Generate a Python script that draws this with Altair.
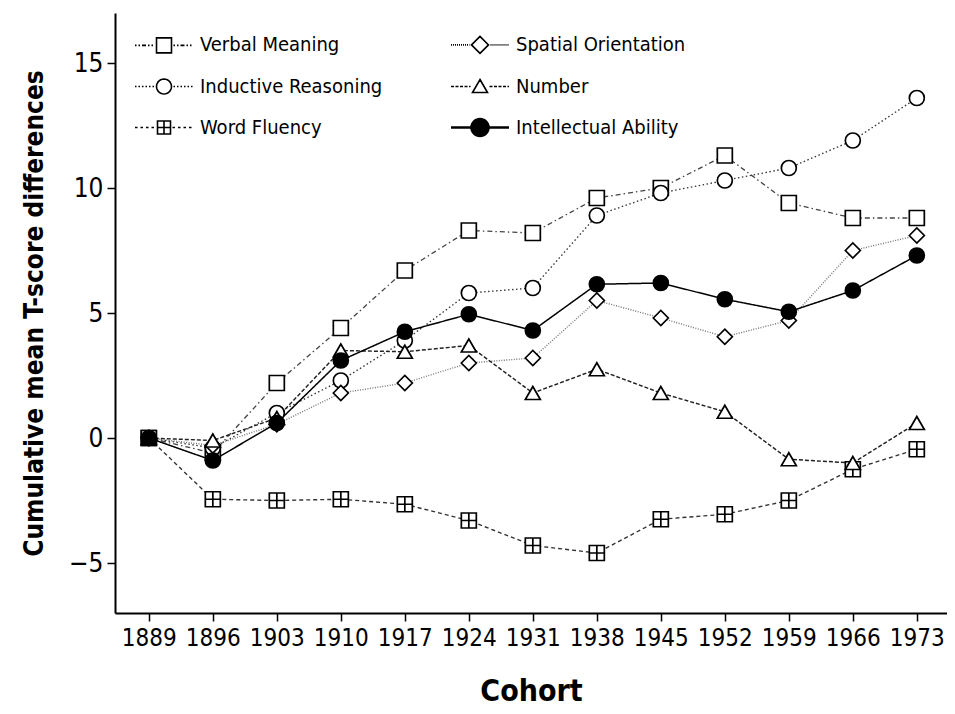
import math
import altair as alt
import pandas as pd

# ---------------- data ----------------
cohorts = [1889, 1896, 1903, 1910, 1917, 1924, 1931, 1938, 1945, 1952, 1959, 1966, 1973]
verbal_meaning = [0, -0.6, 2.2, 4.4, 6.7, 8.3, 8.2, 9.6, 10.0, 11.3, 9.4, 8.8, 8.8]
inductive_reasoning = [0, -0.4, 1.0, 2.3, 3.9, 5.8, 6.0, 8.9, 9.8, 10.3, 10.8, 11.9, 13.6]
word_fluency = [0, -2.45, -2.5, -2.45, -2.65, -3.3, -4.3, -4.6, -3.25, -3.05, -2.5, -1.25, -0.45]
spatial_orientation = [0, -0.3, 0.55, 1.8, 2.2, 3.0, 3.2, 5.5, 4.8, 4.05, 4.7, 7.5, 8.1]
number = [0, -0.1, 0.8, 3.5, 3.45, 3.7, 1.8, 2.75, 1.8, 1.05, -0.85, -1.0, 0.6]
intellectual_ability = [0, -0.9, 0.6, 3.1, 4.25, 4.95, 4.3, 6.15, 6.2, 5.55, 5.05, 5.9, 7.3]

series_names = ["Verbal Meaning", "Inductive Reasoning", "Word Fluency",
                "Spatial Orientation", "Number", "Intellectual Ability"]
series_values = [verbal_meaning, inductive_reasoning, word_fluency,
                 spatial_orientation, number, intellectual_ability]

rows = []
for name, vals in zip(series_names, series_values):
    for c, v in zip(cohorts, vals):
        rows.append({"series": name, "cohort": c, "value": v})
df = pd.DataFrame(rows)

# ---------------- styles ----------------
FONT = "DejaVu Sans Condensed, DejaVu Sans, sans-serif"

line_dash = [[5, 3, 1.5, 3], [1.5, 2.5], [4, 3], [1, 1.5], [4, 2], [1, 0]]
line_color = ["#444444", "#333333", "#333333", "#777777", "#222222", "#000000"]
line_width = [1.3, 1.5, 1.4, 1.2, 1.4, 2.5]

wf_shape = "M-1,-1H1V1H-1ZM0,-1V1M-1,0H1"
point_shapes = ["square", "circle", wf_shape, "diamond", "triangle-up", "circle"]
point_sizes = [225, 225, 180, 289, 240, 380]
point_fill = ["white", "white", "white", "white", "white", "black"]

# legend symbols: line stub + marker drawn as one stroked custom path
U = 14.5            # px per path unit; symbol spans [-2, 2] units
HALF = 2 * U        # half length of legend symbol in px


def f(v):
    return f"{v / U:.3f}"


def dash_segments(x0, x1, pattern, y=0.0):
    out = []
    x = x0
    i = 0
    while x < x1:
        seg = pattern[i % len(pattern)]
        if i % 2 == 0:
            out.append(f"M{f(x)},{f(y)}H{f(min(x + seg, x1))}")
        x += seg
        i += 1
    return "".join(out)


def stub(pattern, gap, y=0.0):
    return dash_segments(-HALF, -gap, pattern, y) + dash_segments(gap, HALF, pattern, y)


def poly(pts):
    return "M" + "L".join(f"{f(a)},{f(b)}" for a, b in pts) + "Z"


def circle_pts(r, n=28):
    return [(r * math.cos(2 * math.pi * k / n), r * math.sin(2 * math.pi * k / n)) for k in range(n)]


def solid_disc(r):
    out = poly(circle_pts(r))
    y = -r + 0.8
    while y < r:
        w = math.sqrt(max(r * r - y * y, 0))
        out += f"M{f(-w)},{f(y)}H{f(w)}"
        y += 1.2
    return out


sq = poly([(-7.5, -7.5), (7.5, -7.5), (7.5, 7.5), (-7.5, 7.5)])
ci = poly(circle_pts(7.5))
wf = poly([(-6.5, -6.5), (6.5, -6.5), (6.5, 6.5), (-6.5, 6.5)]) + f"M0,{f(-6.5)}V{f(6.5)}M{f(-6.5)},0H{f(6.5)}"
di = poly([(-8.5, 0), (0, -8.5), (8.5, 0), (0, 8.5)])
tr = poly([(0, -7), (7.5, 6), (-7.5, 6)])
ia_mark = solid_disc(9.0)
ia_stub = stub([100], 9, -0.5) + stub([100], 9, 0.5)

legend_shapes = [
    stub([1.5, 2, 1.5, 2, 4, 2], 9.5) + sq,
    stub([1.5, 2], 9.5) + ci,
    stub([2.5, 3], 8.5) + wf,
    stub([1, 1], 10.5) + di,
    stub([3, 1.5], 9.5) + tr,
    ia_stub + ia_mark,
]

base = alt.Chart(df)

x_enc = alt.X(
    "cohort:Q",
    scale=alt.Scale(domain=[1885.3, 1976.3], nice=False, zero=False),
    axis=alt.Axis(values=cohorts, format="d", title="Cohort", grid=False,
                  tickSize=8, tickWidth=1.5, tickColor="black",
                  domainColor="black", domainWidth=2,
                  labelFont=FONT, labelFontSize=24, labelColor="black", labelPadding=5,
                  titleFont=FONT, titleFontSize=30, titleFontWeight="bold",
                  titleColor="black", titlePadding=26),
)
y_enc = alt.Y(
    "value:Q",
    scale=alt.Scale(domain=[-7, 17], nice=False, zero=False),
    axis=alt.Axis(values=[-5, 0, 5, 10, 15], title="Cumulative mean T-score differences",
                  grid=False, tickSize=8, tickWidth=1.5, tickColor="black",
                  domainColor="black", domainWidth=2,
                  labelFont=FONT, labelFontSize=26, labelColor="black", labelPadding=4,
                  titleFont=FONT, titleFontSize=26, titleFontWeight="bold",
                  titleColor="black", titlePadding=21),
)

lines = base.mark_line(interpolate="linear").encode(
    x=x_enc,
    y=y_enc,
    detail="series:N",
    strokeDash=alt.StrokeDash("series:N", scale=alt.Scale(domain=series_names, range=line_dash), legend=None),
    color=alt.Color("series:N", scale=alt.Scale(domain=series_names, range=line_color), legend=None),
    strokeWidth=alt.StrokeWidth("series:N", scale=alt.Scale(domain=series_names, range=line_width), legend=None),
    order="cohort:Q",
)

points = base.mark_point(opacity=1, stroke="black", strokeWidth=1.7).encode(
    x="cohort:Q",
    y="value:Q",
    shape=alt.Shape("series:N", scale=alt.Scale(domain=series_names, range=point_shapes), legend=None),
    fill=alt.Fill("series:N", scale=alt.Scale(domain=series_names, range=point_fill), legend=None),
    size=alt.Size("series:N", scale=alt.Scale(domain=series_names, range=point_sizes), legend=None),
)

legend_layer = base.transform_filter("datum.value > 1000").mark_point(
    opacity=1, filled=False, color="black", strokeWidth=1.6
).encode(
    x="cohort:Q",
    y="value:Q",
    shape=alt.Shape(
        "series:N",
        scale=alt.Scale(domain=series_names, range=legend_shapes),
        legend=alt.Legend(
            title=None, orient="none", legendX=20, legendY=16, columns=2,
            columnPadding=64, rowPadding=14, values=series_names,
            symbolSize=(2 * U) ** 2, symbolStrokeWidth=1.6, symbolStrokeColor="black",
            symbolOpacity=1, symbolOffset=13.5, labelOffset=20.5,
            labelFont=FONT, labelFontSize=20, labelColor="black",
            labelLimit=0, symbolLimit=0,
        ),
    ),
)

chart = (
    alt.layer(lines, points, legend_layer)
    .resolve_scale(shape="independent", fill="independent", size="independent")
    .properties(
        width=832, height=600,
        autosize=alt.AutoSizeParams(type="none"),
        padding={"left": 107, "top": 5, "right": 0, "bottom": 93},
        background="white",
    )
    .configure_view(stroke=None)
)

chart.save("out.html", embed_options={"renderer": "svg", "actions": False})
